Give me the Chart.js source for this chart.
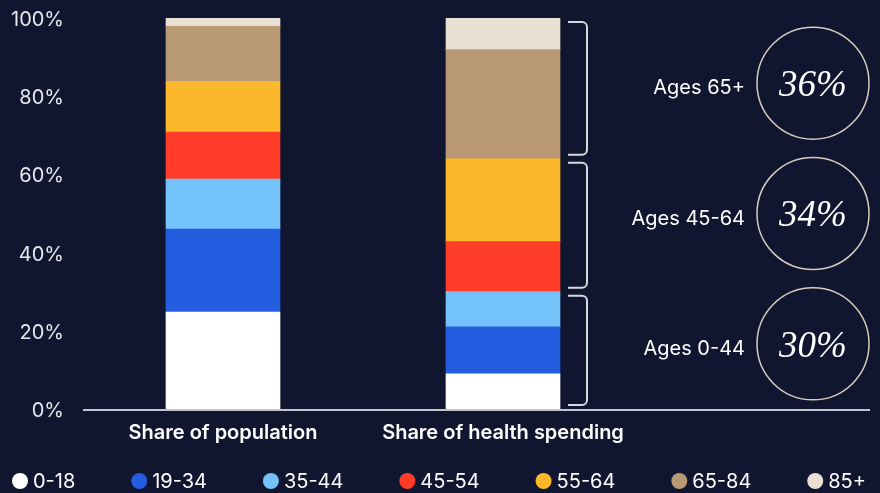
<!DOCTYPE html>
<html>
<head>
<meta charset="utf-8">
<script src="https://cdn.jsdelivr.net/npm/chart.js@4.4.0/dist/chart.umd.min.js"></script>
<style>
  html, body { margin: 0; padding: 0; background: #10162f; }
  #wrap { width: 880px; height: 493px; }
</style>
</head>
<body>
<div id="wrap"><canvas id="ageChart" width="880" height="493"></canvas></div>
<script>
const categories = ['Share of population', 'Share of health spending'];
const ageGroups = ['0-18', '19-34', '35-44', '45-54', '55-64', '65-84', '85+'];
const populationShare = [24.8, 21.2, 12.8, 12.0, 13.0, 14.1, 2.1];
const spendingShare = [9.0, 12.0, 9.0, 12.8, 21.2, 27.9, 8.1];
const yTicks = [0, 20, 40, 60, 80, 100];

// brackets next to the spending bar, top to bottom: [first, last] age group index
const bracketLabels = ['Ages 65+', 'Ages 45-64', 'Ages 0-44'];
const bracketRanges = [[5, 6], [3, 4], [0, 2]];

const groupColors = ['#ffffff', '#255de1', '#74c2fa', '#ff3c28', '#fbb82a', '#b99973', '#e9dfd3'];
const BG = '#10162f';
const SANS = "Inter, 'Noto Sans', sans-serif";

const datasets = ageGroups.map((g, i) => ({
    label: g,
    data: [populationShare[i], spendingShare[i]],
    backgroundColor: groupColors[i],
    borderWidth: 0,
    barThickness: 114
}));

function sumRange(arr, a, b) {
    let s = 0;
    for (let i = a; i <= b; i++) s += arr[i];
    return s;
}

// axis baseline that runs past the plot area under the brackets
const baseline = {
    id: 'baseline',
    afterDatasetsDraw(chart) {
        const { ctx, chartArea } = chart;
        ctx.save();
        ctx.strokeStyle = '#c2c5cf';
        ctx.lineWidth = 2;
        ctx.beginPath();
        ctx.moveTo(chartArea.left, chartArea.bottom + 1);
        ctx.lineTo(chart.width - 10, chartArea.bottom + 1);
        ctx.stroke();
        ctx.restore();
    }
};

// brackets, labels and circled totals for the spending bar
const ageBrackets = {
    id: 'ageBrackets',
    afterDatasetsDraw(chart) {
        const { ctx, chartArea } = chart;
        const y = chart.scales.y;
        const bar = chart.getDatasetMeta(0).data[1];
        const xl = bar.x + bar.width / 2 + 8;
        const xr = xl + 19;
        const r = 5;
        const cx = chart.width - 67;
        const rad = 56;
        const slot = chartArea.height / bracketRanges.length;

        ctx.save();
        bracketRanges.forEach(([a, b], k) => {
            const lo = sumRange(spendingShare, 0, a - 1);
            const hi = lo + sumRange(spendingShare, a, b);
            const top = y.getPixelForValue(hi) + 4;
            const bottom = y.getPixelForValue(lo) - 4;

            ctx.strokeStyle = '#d6d8df';
            ctx.lineWidth = 2;
            ctx.beginPath();
            ctx.moveTo(xl, top);
            ctx.lineTo(xr - r, top);
            ctx.arcTo(xr, top, xr, top + r, r);
            ctx.lineTo(xr, bottom - r);
            ctx.arcTo(xr, bottom, xr - r, bottom, r);
            ctx.lineTo(xl, bottom);
            ctx.stroke();

            const cy = chartArea.top + slot * (k + 0.5);
            ctx.strokeStyle = '#d8cdbd';
            ctx.lineWidth = 1.5;
            ctx.beginPath();
            ctx.arc(cx, cy, rad, 0, Math.PI * 2);
            ctx.stroke();

            ctx.fillStyle = '#ffffff';
            ctx.textBaseline = 'middle';
            ctx.textAlign = 'center';
            ctx.font = "italic 37px 'Liberation Serif', serif";
            ctx.fillText(Math.round(hi - lo) + '%', cx, cy + 3);

            ctx.textAlign = 'right';
            ctx.font = '20px ' + SANS;
            ctx.fillText(bracketLabels[k], cx - rad - 12, cy + 5);
        });
        ctx.restore();
    }
};

// dot legend spread across the bottom edge
const dotLegend = {
    id: 'dotLegend',
    afterDraw(chart) {
        const ctx = chart.ctx;
        const left = 12, right = chart.width - 14;
        const rad = 8, gapText = 5;
        const cy = chart.height - 12;
        ctx.save();
        ctx.font = '20px ' + SANS;
        const widths = ageGroups.map(g => ctx.measureText(g).width);
        const used = widths.reduce((s, w) => s + w + rad * 2 + gapText, 0);
        const gap = (right - left - used) / (ageGroups.length - 1);
        let x = left;
        ageGroups.forEach((g, i) => {
            ctx.fillStyle = groupColors[i];
            ctx.beginPath();
            ctx.arc(x + rad, cy, rad, 0, Math.PI * 2);
            ctx.fill();
            ctx.fillStyle = '#ffffff';
            ctx.textAlign = 'left';
            ctx.textBaseline = 'middle';
            ctx.fillText(g, x + rad * 2 + gapText, cy + 1);
            x += rad * 2 + gapText + widths[i] + gap;
        });
        ctx.restore();
    }
};

new Chart(document.getElementById('ageChart'), {
    type: 'bar',
    data: { labels: categories, datasets: datasets },
    options: {
        responsive: false,
        animation: false,
        layout: { padding: { top: 18, right: 237, bottom: 36, left: 0 } },
        plugins: {
            legend: { display: false },
            tooltip: { enabled: false }
        },
        scales: {
            x: {
                stacked: true,
                afterFit(scale) { scale.height = 48; },
                grid: { display: false, drawTicks: false },
                border: { display: false },
                ticks: {
                    color: '#ffffff',
                    padding: 12,
                    font: { family: SANS, size: 20, weight: '600' }
                }
            },
            y: {
                stacked: true,
                min: 0,
                max: 100,
                afterFit(scale) {
                    scale.width = 83;
                    scale.paddingTop = 0;
                    scale.paddingBottom = 0;
                },
                afterBuildTicks(scale) { scale.ticks = yTicks.map(v => ({ value: v })); },
                grid: { display: false, drawTicks: false },
                border: { display: false },
                ticks: {
                    color: '#e6e7ec',
                    padding: 19,
                    labelOffset: 2,
                    font: { family: SANS, size: 20 },
                    callback: v => v + '%'
                }
            }
        }
    },
    plugins: [baseline, ageBrackets, dotLegend]
});

document.body.style.background = BG;
</script>
</body>
</html>
